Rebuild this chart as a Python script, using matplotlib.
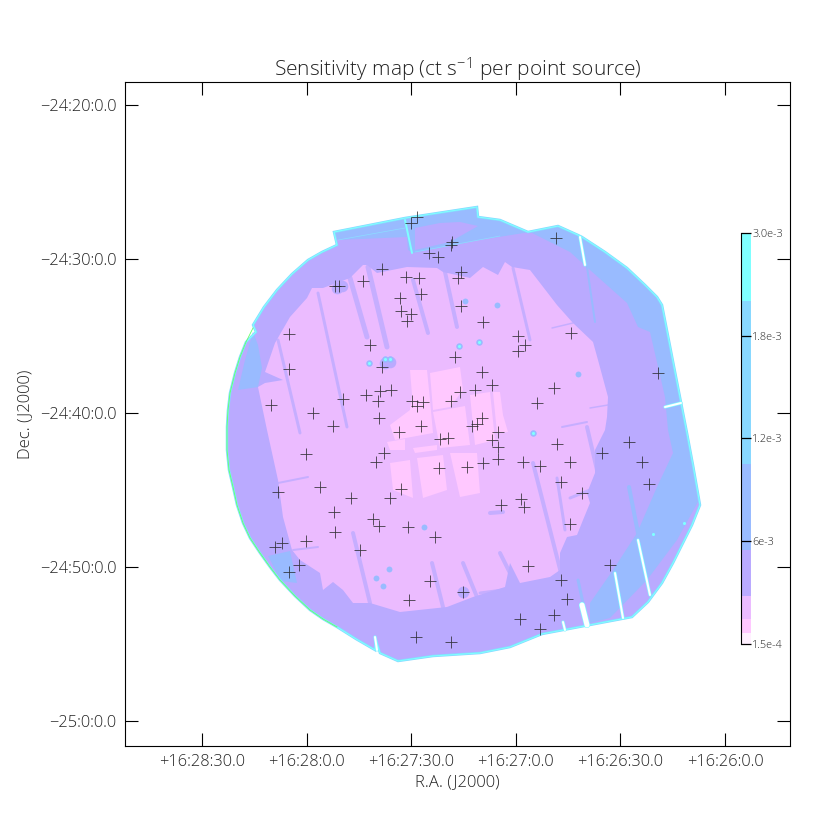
import numpy as np
import matplotlib
matplotlib.use('Agg')
import matplotlib.pyplot as plt
from matplotlib.patches import Polygon

plt.rcParams['font.family'] = ['Open Sans', 'DejaVu Sans']
plt.rcParams['font.weight'] = 'light'
plt.rcParams['axes.titleweight'] = 'light'
plt.rcParams['axes.labelweight'] = 'light'
plt.rcParams['mathtext.default'] = 'regular'

# sky grid: map pixel = f(offset from 16:26:00 in s, arcmin below -24:00)
ra_sec = [150, 120, 90, 60, 30, 0]
ra_labels = ['+16:28:30.0', '+16:28:0.0', '+16:27:30.0', '+16:27:0.0', '+16:26:30.0', '+16:26:0.0']
dec_min = [20, 30, 40, 50, 60]
dec_labels = ['\u221224:20:0.0', '\u221224:30:0.0', '\u221224:40:0.0', '\u221224:50:0.0', '\u221225:0:0.0']

# colour levels of the sensitivity map
levels = [1.5e-4, 2.0e-4, 2.6e-4, 3.6e-4, 5.6e-4, 1.05e-3, 2.2e-3, 3.0e-3]
level_colors = ['#FFF0FF', '#FFC8FF', '#EBBBFF', '#BAAAFF', '#99BBFF', '#88D8FF', '#7FFFFF']
cb_ticks = [1.5e-4, 6e-4, 1.2e-3, 1.8e-3, 3.0e-3]
cb_labels = ['1.5e-4', '6e-3', '1.2e-3', '1.8e-3', '3.0e-3']

outline = [(334,232),(337,245),(322,252),(308,260),(292,274),(277,290),(264,307),(253,325),(256,332),(246,342),(240,357),
           (235,373),(230,393),(228,410),(227,427),(227,450),(229,470),(233,487),(237,505),(243,523),(250,538),(260,553),
           (270,567),(280,580),(295,596),(310,610),(323,619),(337,627),(356,639),(375,650),(376,640),(380,653),
           (398,661),(433,656),(480,653),(510,647),(542,634),(632,617),(648,602),(662,583),(673,563),(683,543),(692,525),(700,505),
           (693,465),(687,433),(662,305),(657,297),(645,285),(627,268),(605,252),(582,237),(578,235),(558,226),(528,232),(500,220),(478,217),
           (477,207),(405,218)]
green_edge = [(253,328),(246,342),(240,357),(235,373),(230,393),(228,410),(227,427),(227,450),(229,470),(233,487),(237,505),
              (243,523),(250,538),(260,553),(270,567),(280,580),(295,596),(310,610),(323,619),(337,627)]
blue_main = [(334,232),(405,218),(477,207),(478,217),(500,220),(528,232),(558,226),(578,235),(582,237),(605,252),(627,268),(645,285),
             (657,297),(662,305),(687,433),(698,502),(677,540),(647,580),(610,618),(590,623),(590,603),(613,570),
             (637,533),(657,487),(673,453),(668,430),(665,397),(650,332),(638,327),(627,303),(590,270),(570,252),
             (530,232),(480,240),(413,253),(408,250),(407,237),(338,240)]
blue_left = [(253,332),(258,345),(262,368),(258,387),(238,390),(245,360)]
blue_low = [(268,556),(290,551),(297,583),(281,581)]
flap_patch = [(415,228),(440,223),(460,222),(478,226),(450,242),(415,250)]
pink_main = [(265,372),(275,343),(290,317),(307,298),(312,288),(323,288),(350,278),(363,265),(367,265),(377,273),
             (407,267),(437,268),(443,272),(470,278),(483,267),(498,275),(505,262),(512,267),(530,270),(547,292),
             (557,305),(573,323),(593,342),(598,360),(608,397),(607,417),(605,430),(595,450),(595,473),(587,493),
             (590,503),(583,520),(577,535),(567,537),(560,553),(560,570),(550,577),(520,583),(510,563),(505,587),
             (473,597),(447,607),(400,612),(370,603),(353,603),(343,590),(333,582),(323,590),(320,573),(300,560),
             (292,550),(283,517),(278,480),(267,430),(258,387),(265,383),(283,380)]
light_patches = [
    [(410,370),(427,370),(430,400),(433,433),(395,440),(390,425),(410,410),(412,395)],
    [(430,373),(460,367),(463,390),(450,407),(433,410)],
    [(493,392),(500,392),(503,415),(508,432),(497,433)],
    [(433,412),(465,406),(470,445),(440,448)],
    [(470,395),(490,392),(495,440),(475,445)],
    [(390,463),(410,460),(413,498),(393,490)],
    [(417,458),(443,455),(447,490),(423,498)],
    [(450,453),(477,453),(480,493),(460,497)],
    [(413,448),(437,445),(437,450),(415,453)],
    [(387,442),(405,439),(405,450),(390,450)],
]

# thin coverage stripes, (x0, y0, x1, y1, width)
purple_stripes = [(278,340,300,433,3),(318,293,347,427,3),(350,278,367,337,5),(368,267,387,347,5),(413,280,428,333,4),
                  (445,272,457,327,4),(513,268,530,340,3),(353,533,370,603,4),(432,563,443,607,4),(463,563,477,597,4),
                  (533,463,562,577,4),(557,478,565,530,3),(500,553,510,573,4),(587,427,597,470,4),
                  (278,483,308,477,2),(293,550,318,547,2),(552,328,573,323,1.5),(590,408,608,405,1.5),(562,427,587,422,2),
                  (570,498,590,490,3),(480,593,503,590,3),(490,513,503,512,4)]
blue_stripes = [(629,487,638,533,4),(578,580,583,603,3),(587,267,595,322,2)]
white_gaps = [(638,540,650,595,2),(615,573,623,618,2),(582,605,587,625,5),(563,622,565,630,2),(580,237,585,265,2),
              (665,407,681,403,2),(375,637,377,650,2)]
cyan_lines = [(405,220,412,253,2)]
flap_lines = [(338,240,405,228,.7),(415,252,500,236,.7)]

# weak spots in the coverage
blob_x = [337,342,463,390,385]
blob_y = [288,286,592,362,363]
spot_x = [424,389,376,383,497,578,465]
spot_y = [527,569,578,586,305,374,301]
hot_x = [390,385,369,459,479,533]
hot_y = [359,359,363,346,342,433]
faint_x = [653,684]
faint_y = [534,523]

source_x = [417,411,452,451,429,438,382,406,419,461,458,335,339,363,421,400,461,401,411,407,483,289,370,455,382,289,
            482,492,391,380,366,475,460,378,343,412,423,417,451,271,313,379,333,421,482,477,472,399,498,556,571,658,
            518,525,518,554,537,440,448,492,498,498,306,384,376,439,467,483,278,320,351,401,390,334,373,379,335,408,
            435,306,282,275,360,299,289,430,463,409,416,451,523,540,557,570,561,602,629,642,649,582,521,524,501,570,
            528,561,610,567,554,520,540]
source_y = [217,223,242,245,253,257,269,277,278,272,278,286,286,281,294,298,306,311,314,321,322,334,345,357,367,369,
            372,385,390,391,395,390,392,401,399,401,402,406,401,405,413,418,426,426,418,424,426,432,432,238,333,373,
            336,345,351,388,403,439,438,440,447,459,454,453,462,468,467,463,492,487,498,489,498,512,519,526,532,527,
            537,541,543,547,550,565,572,581,592,600,637,642,462,466,444,462,482,453,442,462,484,493,499,507,505,524,
            566,580,565,599,615,619,629]


def ra_to_x(sec):
    return 725 - np.asarray(sec) * 3.4867


def dec_to_y(arcmin):
    return 105 + (np.asarray(arcmin) - 20) * 15.4


def draw_segments(ax, segs, color, extra=0, alpha=1):
    for x0, y0, x1, y1, w in segs:
        ax.plot([x0, x1], [y0, y1], color=color, lw=(w + extra) * 0.72, solid_capstyle='round', alpha=alpha)


fig = plt.figure(figsize=(8.3, 8.3), dpi=100)
ax = fig.add_axes([125/830, 84/830, 665/830, 664/830])
ax.set_xlim(125, 790)
ax.set_ylim(746, 82)

purple = level_colors[3]
blue = level_colors[4]
pale = level_colors[5]
cyan = level_colors[6]
pink = level_colors[2]
light = level_colors[1]

ax.add_patch(Polygon(outline, closed=True, fc=purple, ec='none'))
for poly in [blue_main, blue_left, blue_low]:
    ax.add_patch(Polygon(poly, closed=True, fc=blue, ec='none'))
ax.add_patch(Polygon(flap_patch, closed=True, fc=purple, ec='none'))
ax.add_patch(Polygon(outline, closed=True, fc='none', ec=pale, lw=1.8))
ax.add_patch(Polygon(outline, closed=True, fc='none', ec=cyan, lw=0.8))
ax.plot(*zip(*green_edge), color='#66FF66', lw=0.6)

ax.add_patch(Polygon(pink_main, closed=True, fc=pink, ec='none'))
for poly in light_patches:
    ax.add_patch(Polygon(poly, closed=True, fc=light, ec='none'))

draw_segments(ax, purple_stripes, purple, alpha=0.75)
draw_segments(ax, blue_stripes, blue)
draw_segments(ax, flap_lines, cyan, alpha=0.5)
draw_segments(ax, cyan_lines, cyan)
draw_segments(ax, white_gaps, cyan, extra=1.2)
draw_segments(ax, white_gaps, 'white')

ax.scatter(blob_x, blob_y, s=70, color=purple, lw=0, zorder=3)
ax.scatter(spot_x, spot_y, s=18, color=blue, lw=0, zorder=3)
ax.scatter(hot_x, hot_y, s=22, color=blue, lw=0, zorder=3)
ax.scatter(hot_x + faint_x, hot_y + faint_y, s=5, color=cyan, lw=0, zorder=3)
ax.plot(source_x, source_y, '+', color='#222222', ms=8.5, mew=0.6, alpha=0.85, zorder=4)

ax.set_xticks(ra_to_x(ra_sec))
ax.set_xticklabels(ra_labels)
ax.set_yticks(dec_to_y(dec_min))
ax.set_yticklabels(dec_labels)
ax.tick_params(direction='in', length=9.4, width=0.8, top=True, right=True, labelsize=11.8,
               labelcolor='#222222', pad=6)
for s in ax.spines.values():
    s.set_linewidth(0.8)
ax.set_xlabel('R.A. (J2000)', fontsize=12, color='#222222', labelpad=3)
ax.set_ylabel('Dec. (J2000)', fontsize=12, color='#222222', labelpad=5)
ax.set_title('Sensitivity map (ct s$^{-1}$ per point source)', fontsize=15, color='#222222', pad=4)

# colour bar
cax = fig.add_axes([741/830, 186/830, 10/830, 411/830])
cax.set_yscale('function', functions=(lambda v: np.interp(v, cb_ticks, [0, 1, 2, 3, 4]),
                                      lambda v: np.interp(v, [0, 1, 2, 3, 4], cb_ticks)))
cax.bar(0, np.diff(levels), bottom=levels[:-1], width=1, color=level_colors)
cax.set_xlim(-0.5, 0.5)
cax.set_ylim(levels[0], levels[-1])
cax.set_xticks([])
cax.set_yticks(cb_ticks)
cax.set_yticklabels(cb_labels)
cax.minorticks_off()
cax.tick_params(axis='y', direction='in', length=7, width=0.9, left=True, right=False, labelleft=False,
                labelright=True, labelsize=7.8, labelcolor='#222222', pad=1)
for name in ['right', 'bottom', 'top']:
    cax.spines[name].set_visible(False)

fig.savefig('out.png', dpi=100)
